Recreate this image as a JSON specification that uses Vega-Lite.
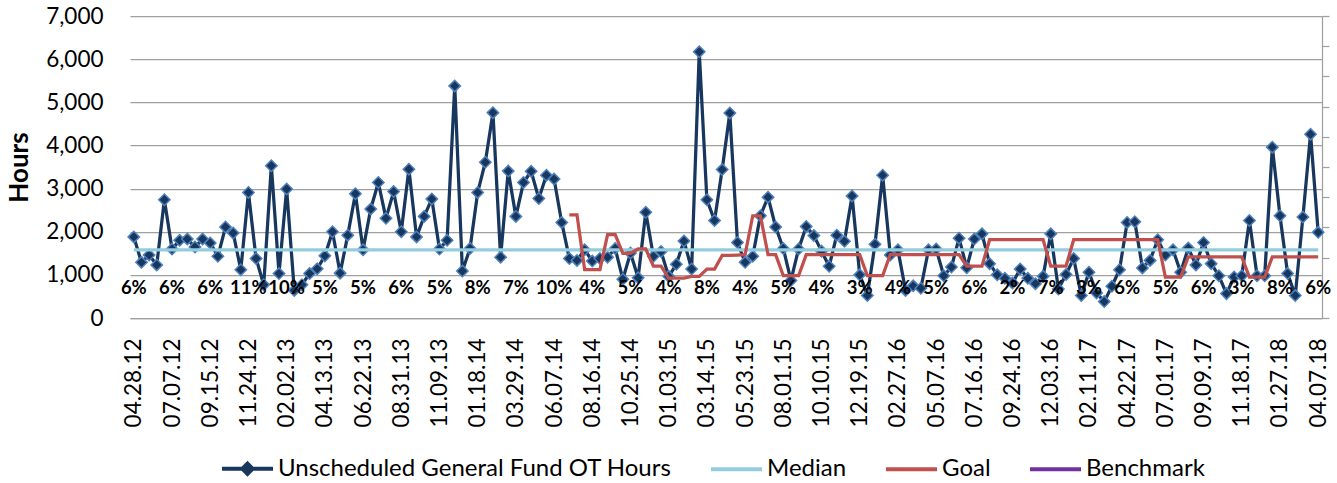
{
  "$schema": "https://vega.github.io/schema/vega-lite/v6.json",
  "width": 1192,
  "height": 302,
  "autosize": {"type": "none"},
  "padding": {"left": 130, "top": 16, "right": 15, "bottom": 165},
  "background": "white",
  "config": {
    "view": {"stroke": null},
    "font": "Lato",
    "axis": {"labelFont": "Lato", "titleFont": "Lato", "labelColor": "#000000", "titleColor": "#000000"}
  },
  "data": {"values": [
    {"date":"2012-04-28","ot":1880,"median":1580,"pct":"6%"},
    {"date":"2012-05-12","ot":1290,"median":1580},
    {"date":"2012-05-26","ot":1460,"median":1580},
    {"date":"2012-06-09","ot":1230,"median":1580},
    {"date":"2012-06-23","ot":2740,"median":1580},
    {"date":"2012-07-07","ot":1600,"median":1580,"pct":"6%"},
    {"date":"2012-07-21","ot":1800,"median":1580},
    {"date":"2012-08-04","ot":1830,"median":1580},
    {"date":"2012-08-18","ot":1645,"median":1580},
    {"date":"2012-09-01","ot":1830,"median":1580},
    {"date":"2012-09-15","ot":1740,"median":1580,"pct":"6%"},
    {"date":"2012-09-29","ot":1430,"median":1580},
    {"date":"2012-10-13","ot":2110,"median":1580},
    {"date":"2012-10-27","ot":1970,"median":1580},
    {"date":"2012-11-10","ot":1120,"median":1580},
    {"date":"2012-11-24","ot":2910,"median":1580,"pct":"11%"},
    {"date":"2012-12-08","ot":1380,"median":1580},
    {"date":"2012-12-22","ot":770,"median":1580},
    {"date":"2013-01-05","ot":3530,"median":1580},
    {"date":"2013-01-19","ot":1030,"median":1580},
    {"date":"2013-02-02","ot":2990,"median":1580,"pct":"10%"},
    {"date":"2013-02-16","ot":640,"median":1580},
    {"date":"2013-03-02","ot":770,"median":1580},
    {"date":"2013-03-16","ot":1030,"median":1580},
    {"date":"2013-03-30","ot":1140,"median":1580},
    {"date":"2013-04-13","ot":1440,"median":1580,"pct":"5%"},
    {"date":"2013-04-27","ot":2000,"median":1580},
    {"date":"2013-05-11","ot":1040,"median":1580},
    {"date":"2013-05-25","ot":1920,"median":1580},
    {"date":"2013-06-08","ot":2880,"median":1580},
    {"date":"2013-06-22","ot":1580,"median":1580,"pct":"5%"},
    {"date":"2013-07-06","ot":2525,"median":1580},
    {"date":"2013-07-20","ot":3140,"median":1580},
    {"date":"2013-08-03","ot":2310,"median":1580},
    {"date":"2013-08-17","ot":2930,"median":1580},
    {"date":"2013-08-31","ot":2000,"median":1580,"pct":"6%"},
    {"date":"2013-09-14","ot":3450,"median":1580},
    {"date":"2013-09-28","ot":1880,"median":1580},
    {"date":"2013-10-12","ot":2355,"median":1580},
    {"date":"2013-10-26","ot":2760,"median":1580},
    {"date":"2013-11-09","ot":1600,"median":1580,"pct":"5%"},
    {"date":"2013-11-23","ot":1800,"median":1580},
    {"date":"2013-12-07","ot":5380,"median":1580},
    {"date":"2013-12-21","ot":1090,"median":1580},
    {"date":"2014-01-04","ot":1610,"median":1580},
    {"date":"2014-01-18","ot":2910,"median":1580,"pct":"8%"},
    {"date":"2014-02-01","ot":3610,"median":1580},
    {"date":"2014-02-15","ot":4760,"median":1580},
    {"date":"2014-03-01","ot":1410,"median":1580},
    {"date":"2014-03-15","ot":3405,"median":1580},
    {"date":"2014-03-29","ot":2355,"median":1580,"pct":"7%"},
    {"date":"2014-04-12","ot":3140,"median":1580},
    {"date":"2014-04-26","ot":3400,"median":1580},
    {"date":"2014-05-10","ot":2770,"median":1580},
    {"date":"2014-05-24","ot":3310,"median":1580},
    {"date":"2014-06-07","ot":3220,"median":1580,"pct":"10%"},
    {"date":"2014-06-21","ot":2215,"median":1580},
    {"date":"2014-07-05","ot":1380,"median":1580,"goal":2390},
    {"date":"2014-07-19","ot":1335,"median":1580,"goal":2390},
    {"date":"2014-08-02","ot":1580,"median":1580,"goal":1120},
    {"date":"2014-08-16","ot":1320,"median":1580,"goal":1120,"pct":"4%"},
    {"date":"2014-08-30","ot":1380,"median":1580,"goal":1120},
    {"date":"2014-09-13","ot":1410,"median":1580,"goal":1930},
    {"date":"2014-09-27","ot":1610,"median":1580,"goal":1930},
    {"date":"2014-10-11","ot":900,"median":1580,"goal":1500},
    {"date":"2014-10-25","ot":1505,"median":1580,"goal":1500,"pct":"5%"},
    {"date":"2014-11-08","ot":935,"median":1580,"goal":1600},
    {"date":"2014-11-22","ot":2450,"median":1580,"goal":1600},
    {"date":"2014-12-06","ot":1430,"median":1580,"goal":1200},
    {"date":"2014-12-20","ot":1540,"median":1580,"goal":1200},
    {"date":"2015-01-03","ot":965,"median":1580,"goal":925,"pct":"4%"},
    {"date":"2015-01-17","ot":1245,"median":1580,"goal":925},
    {"date":"2015-01-31","ot":1785,"median":1580,"goal":925},
    {"date":"2015-02-14","ot":1135,"median":1580,"goal":965},
    {"date":"2015-02-28","ot":6170,"median":1580,"goal":965},
    {"date":"2015-03-14","ot":2740,"median":1580,"goal":1135,"pct":"8%"},
    {"date":"2015-03-28","ot":2260,"median":1580,"goal":1135},
    {"date":"2015-04-11","ot":3440,"median":1580,"goal":1450},
    {"date":"2015-04-25","ot":4750,"median":1580,"goal":1450},
    {"date":"2015-05-09","ot":1750,"median":1580,"goal":1460},
    {"date":"2015-05-23","ot":1290,"median":1580,"goal":1470,"pct":"4%"},
    {"date":"2015-06-06","ot":1430,"median":1580,"goal":2370},
    {"date":"2015-06-20","ot":2370,"median":1580,"goal":2370},
    {"date":"2015-07-04","ot":2800,"median":1580,"goal":1470},
    {"date":"2015-07-18","ot":2110,"median":1580,"goal":1470},
    {"date":"2015-08-01","ot":1610,"median":1580,"goal":980,"pct":"5%"},
    {"date":"2015-08-15","ot":870,"median":1580,"goal":980},
    {"date":"2015-08-29","ot":1600,"median":1580,"goal":980},
    {"date":"2015-09-12","ot":2120,"median":1580,"goal":1470},
    {"date":"2015-09-26","ot":1910,"median":1580,"goal":1470},
    {"date":"2015-10-10","ot":1550,"median":1580,"goal":1470,"pct":"4%"},
    {"date":"2015-10-24","ot":1200,"median":1580,"goal":1470},
    {"date":"2015-11-07","ot":1920,"median":1580,"goal":1470},
    {"date":"2015-11-21","ot":1780,"median":1580,"goal":1470},
    {"date":"2015-12-05","ot":2830,"median":1580,"goal":1470},
    {"date":"2015-12-19","ot":1000,"median":1580,"goal":1470,"pct":"3%"},
    {"date":"2016-01-02","ot":520,"median":1580,"goal":980},
    {"date":"2016-01-16","ot":1710,"median":1580,"goal":980},
    {"date":"2016-01-30","ot":3310,"median":1580,"goal":980},
    {"date":"2016-02-13","ot":1460,"median":1580,"goal":1470},
    {"date":"2016-02-27","ot":1580,"median":1580,"goal":1470,"pct":"4%"},
    {"date":"2016-03-12","ot":640,"median":1580,"goal":1470},
    {"date":"2016-03-26","ot":745,"median":1580,"goal":1470},
    {"date":"2016-04-09","ot":690,"median":1580,"goal":1470},
    {"date":"2016-04-23","ot":1580,"median":1580,"goal":1470},
    {"date":"2016-05-07","ot":1600,"median":1580,"goal":1470,"pct":"5%"},
    {"date":"2016-05-21","ot":980,"median":1580,"goal":1470},
    {"date":"2016-06-04","ot":1180,"median":1580,"goal":1470},
    {"date":"2016-06-18","ot":1850,"median":1580,"goal":1470},
    {"date":"2016-07-02","ot":1165,"median":1580,"goal":1200},
    {"date":"2016-07-16","ot":1830,"median":1580,"goal":1200,"pct":"6%"},
    {"date":"2016-07-30","ot":1950,"median":1580,"goal":1200},
    {"date":"2016-08-13","ot":1260,"median":1580,"goal":1815},
    {"date":"2016-08-27","ot":1000,"median":1580,"goal":1815},
    {"date":"2016-09-10","ot":920,"median":1580,"goal":1815},
    {"date":"2016-09-24","ot":810,"median":1580,"goal":1815,"pct":"2%"},
    {"date":"2016-10-08","ot":1135,"median":1580,"goal":1815},
    {"date":"2016-10-22","ot":920,"median":1580,"goal":1815},
    {"date":"2016-11-05","ot":795,"median":1580,"goal":1815},
    {"date":"2016-11-19","ot":965,"median":1580,"goal":1815},
    {"date":"2016-12-03","ot":1950,"median":1580,"goal":1200,"pct":"7%"},
    {"date":"2016-12-17","ot":670,"median":1580,"goal":1200},
    {"date":"2016-12-31","ot":1010,"median":1580,"goal":1200},
    {"date":"2017-01-14","ot":1380,"median":1580,"goal":1815},
    {"date":"2017-01-28","ot":520,"median":1580,"goal":1815},
    {"date":"2017-02-11","ot":1060,"median":1580,"goal":1815,"pct":"3%"},
    {"date":"2017-02-25","ot":580,"median":1580,"goal":1815},
    {"date":"2017-03-11","ot":380,"median":1580,"goal":1815},
    {"date":"2017-03-25","ot":735,"median":1580,"goal":1815},
    {"date":"2017-04-08","ot":1120,"median":1580,"goal":1815},
    {"date":"2017-04-22","ot":2215,"median":1580,"goal":1815,"pct":"6%"},
    {"date":"2017-05-06","ot":2230,"median":1580,"goal":1815},
    {"date":"2017-05-20","ot":1160,"median":1580,"goal":1815},
    {"date":"2017-06-03","ot":1335,"median":1580,"goal":1815},
    {"date":"2017-06-17","ot":1815,"median":1580,"goal":1815},
    {"date":"2017-07-01","ot":1460,"median":1580,"goal":950,"pct":"5%"},
    {"date":"2017-07-15","ot":1580,"median":1580,"goal":950},
    {"date":"2017-07-29","ot":1060,"median":1580,"goal":950},
    {"date":"2017-08-12","ot":1620,"median":1580,"goal":1415},
    {"date":"2017-08-26","ot":1230,"median":1580,"goal":1415},
    {"date":"2017-09-09","ot":1750,"median":1580,"goal":1415,"pct":"6%"},
    {"date":"2017-09-23","ot":1260,"median":1580,"goal":1415},
    {"date":"2017-10-07","ot":980,"median":1580,"goal":1415},
    {"date":"2017-10-21","ot":565,"median":1580,"goal":1415},
    {"date":"2017-11-04","ot":950,"median":1580,"goal":1415},
    {"date":"2017-11-18","ot":980,"median":1580,"goal":1415,"pct":"3%"},
    {"date":"2017-12-02","ot":2260,"median":1580,"goal":950},
    {"date":"2017-12-16","ot":980,"median":1580,"goal":950},
    {"date":"2017-12-30","ot":980,"median":1580,"goal":950},
    {"date":"2018-01-13","ot":3960,"median":1580,"goal":1415},
    {"date":"2018-01-27","ot":2370,"median":1580,"goal":1415,"pct":"8%"},
    {"date":"2018-02-10","ot":1030,"median":1580,"goal":1415},
    {"date":"2018-02-24","ot":520,"median":1580,"goal":1415},
    {"date":"2018-03-10","ot":2340,"median":1580,"goal":1415},
    {"date":"2018-03-24","ot":4260,"median":1580,"goal":1415},
    {"date":"2018-04-07","ot":1985,"median":1580,"goal":1415,"pct":"6%"}
  ]},
  "encoding": {
    "x": {
      "field": "date",
      "type": "temporal",
      "scale": {"type": "utc", "domain": [{"year": 2012, "month": 4, "date": 21, "utc": true}, {"year": 2018, "month": 4, "date": 14, "utc": true}]},
      "axis": {
        "title": null,
        "grid": false,
        "ticks": false,
        "domain": true,
        "domainColor": "#A0A0A0",
        "domainWidth": 1.25,
        "labelAngle": -90,
        "labelAlign": "right",
        "labelBaseline": "middle",
        "labelPadding": 20,
        "labelFontSize": 22.5,
        "labelOverlap": false,
        "labelExpr": "utcFormat(datum.value, '%m.%d.%y')",
        "values": [
          {"year":2012,"month":4,"date":28,"utc":true},
          {"year":2012,"month":7,"date":7,"utc":true},
          {"year":2012,"month":9,"date":15,"utc":true},
          {"year":2012,"month":11,"date":24,"utc":true},
          {"year":2013,"month":2,"date":2,"utc":true},
          {"year":2013,"month":4,"date":13,"utc":true},
          {"year":2013,"month":6,"date":22,"utc":true},
          {"year":2013,"month":8,"date":31,"utc":true},
          {"year":2013,"month":11,"date":9,"utc":true},
          {"year":2014,"month":1,"date":18,"utc":true},
          {"year":2014,"month":3,"date":29,"utc":true},
          {"year":2014,"month":6,"date":7,"utc":true},
          {"year":2014,"month":8,"date":16,"utc":true},
          {"year":2014,"month":10,"date":25,"utc":true},
          {"year":2015,"month":1,"date":3,"utc":true},
          {"year":2015,"month":3,"date":14,"utc":true},
          {"year":2015,"month":5,"date":23,"utc":true},
          {"year":2015,"month":8,"date":1,"utc":true},
          {"year":2015,"month":10,"date":10,"utc":true},
          {"year":2015,"month":12,"date":19,"utc":true},
          {"year":2016,"month":2,"date":27,"utc":true},
          {"year":2016,"month":5,"date":7,"utc":true},
          {"year":2016,"month":7,"date":16,"utc":true},
          {"year":2016,"month":9,"date":24,"utc":true},
          {"year":2016,"month":12,"date":3,"utc":true},
          {"year":2017,"month":2,"date":11,"utc":true},
          {"year":2017,"month":4,"date":22,"utc":true},
          {"year":2017,"month":7,"date":1,"utc":true},
          {"year":2017,"month":9,"date":9,"utc":true},
          {"year":2017,"month":11,"date":18,"utc":true},
          {"year":2018,"month":1,"date":27,"utc":true},
          {"year":2018,"month":4,"date":7,"utc":true}
        ]
      }
    }
  },
  "layer": [
    {
      "encoding": {
        "y": {
          "type": "quantitative",
          "scale": {"domain": [0, 7000], "nice": false},
          "axis": {
            "title": "Hours",
            "titleFontSize": 26,
            "titleFontWeight": "bold",
            "titlePadding": 13,
            "values": [0, 1000, 2000, 3000, 4000, 5000, 6000, 7000],
            "format": ",.0f",
            "grid": true,
            "gridColor": "#A0A0A0",
            "gridWidth": 1.25,
            "domain": false,
            "ticks": false,
            "labelPadding": 27,
            "labelFontSize": 22.5
          }
        }
      },
      "layer": [
        {
          "mark": {"type": "line", "strokeWidth": 3.25},
          "encoding": {
            "y": {"field": "ot", "type": "quantitative", "title": "Hours"},
            "color": {
              "datum": "Unscheduled General Fund OT Hours",
              "type": "nominal",
              "scale": {
                "domain": ["Unscheduled General Fund OT Hours", "Median", "Goal", "Benchmark"],
                "range": ["#17375E", "#93CDDD", "#C0504D", "#7030A0"]
              },
              "legend": {
                "title": null,
                "orient": "none",
                "direction": "horizontal",
                "legendX": 90,
                "legendY": 425,
                "symbolType": "stroke",
                "symbolSize": 2601,
                "symbolStrokeWidth": 4,
                "labelFont": "Lato",
                "labelFontSize": 24,
                "labelColor": "#000000",
                "labelOffset": 3,
                "labelLimit": 0,
                "columnPadding": 31,
                "encode": {
                  "symbols": {
                    "update": {
                      "shape": {"signal": "datum.value === 'Unscheduled General Fund OT Hours' ? 'M-1,0H1M0,-0.2L0.2,0L0,0.2L-0.2,0Z' : 'stroke'"},
                      "fill": {"signal": "datum.value === 'Unscheduled General Fund OT Hours' ? '#17375E' : 'transparent'"},
                      "strokeWidth": {"value": 4}
                    }
                  }
                }
              }
            }
          }
        },
        {
          "mark": {"type": "point", "shape": "diamond", "filled": true, "size": 130, "fill": "#17375E", "stroke": "#4F81BD", "strokeWidth": 1.5, "opacity": 1},
          "encoding": {
            "y": {"field": "ot", "type": "quantitative", "title": "Hours"}
          }
        },
        {
          "mark": {"type": "line", "strokeWidth": 3.25},
          "encoding": {
            "y": {"field": "median", "type": "quantitative", "title": "Hours"},
            "color": {"datum": "Median", "type": "nominal"}
          }
        },
        {
          "mark": {"type": "line", "strokeWidth": 3.25},
          "encoding": {
            "y": {"field": "goal", "type": "quantitative", "title": "Hours"},
            "color": {"datum": "Goal", "type": "nominal"}
          }
        }
      ]
    },
    {
      "transform": [{"filter": "datum.pct != null"}],
      "mark": {"type": "text", "font": "Lato", "fontWeight": "bold", "fontSize": 18.5, "align": "center", "baseline": "middle", "color": "#000000"},
      "encoding": {
        "y": {
          "datum": 1,
          "type": "quantitative",
          "scale": {"domain": [0, 10], "nice": false},
          "axis": {
            "orient": "right",
            "title": null,
            "labels": false,
            "grid": false,
            "values": [0, 1, 2, 3, 4, 5, 6, 7, 8, 9, 10],
            "ticks": true,
            "tickSize": 7,
            "tickColor": "#A0A0A0",
            "tickWidth": 1.25,
            "domain": true,
            "domainColor": "#A0A0A0",
            "domainWidth": 1.25
          }
        },
        "text": {"field": "pct", "type": "nominal"}
      }
    }
  ],
  "resolve": {"scale": {"y": "independent"}}
}
